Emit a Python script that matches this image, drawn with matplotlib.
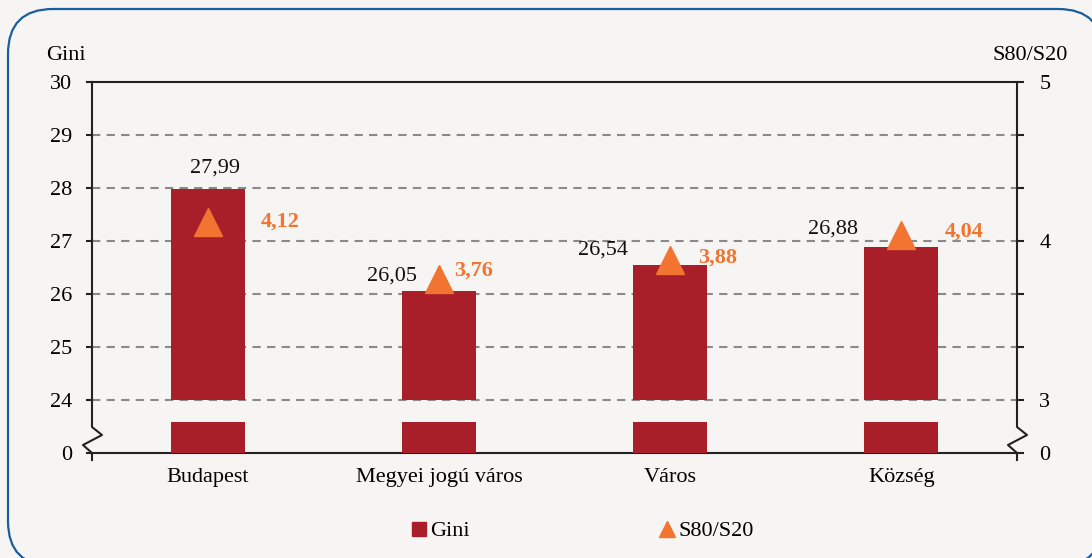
#Gini index and S80/S20 ratio by settlement type, with a broken left axis
import numpy as np
import matplotlib
matplotlib.use("Agg")
import matplotlib.pyplot as plt
from matplotlib.lines import Line2D
from matplotlib.patches import FancyBboxPatch
from matplotlib.ticker import FixedLocator

categories = ['Budapest', 'Megyei jogú város', 'Város', 'Község']
gini = [27.99, 26.05, 26.54, 26.88]
s80_s20 = [4.12, 3.76, 3.88, 4.04]

left_ticks = [23, 24, 25, 26, 27, 28, 29, 30]
left_labels = ['0', '24', '25', '26', '27', '28', '29', '30']
right_ticks = [8/3, 3, 10/3, 11/3, 4, 13/3, 14/3, 5]
right_labels = ['0', '3', '', '', '4', '', '', '5']

BAR = '#a81f2a'
ORANGE = '#f27430'
BG = '#f6f5f3'
FONT = 'Liberation Serif'
FS = 16

plt.rcParams['font.family'] = FONT
plt.rcParams['font.size'] = FS

fig = plt.figure(figsize=(10.92, 5.58), dpi=100)
fig.patch.set_facecolor(BG)

#rounded blue frame round the chart
frame = FancyBboxPatch((0.08, -0.08), 10.95, 5.57, boxstyle='round,pad=0,rounding_size=0.45',
                       transform=fig.dpi_scale_trans, facecolor=BG, edgecolor='#1b5e9e',
                       linewidth=1.6, zorder=-10)
fig.add_artist(frame)

ax = fig.add_axes([92/1092, 1 - 453/558, 925/1092, 371/558])
ax.set_facecolor('none')
x = np.arange(len(categories))
ax.set_xlim(-0.5, len(categories) - 0.5)
ax.set_ylim(23, 30)

#bars: a stub below the break and the real part above 24
ax.bar(x, 0.58, bottom=23, width=0.32, color=BAR, zorder=3)
ax.bar(x, np.array(gini) - 24, bottom=24, width=0.32, color=BAR, zorder=3)

for g in range(24, 30):
    ax.axhline(g, color='#8a8a8a', lw=1.5, linestyle=(0, (4, 3)), zorder=1)

ax.yaxis.set_major_locator(FixedLocator(left_ticks))
ax.set_yticklabels(left_labels)
ax.set_xticks(x)
ax.set_xticklabels(categories)
ax.tick_params(axis='x', length=0, pad=11, labelsize=FS)
ax.tick_params(axis='y', direction='out', length=4, width=1.5, color='#222222', pad=10.5, labelsize=FS)
for s in ['left', 'right']:
    ax.spines[s].set_visible(False)
for s in ['top', 'bottom']:
    ax.spines[s].set_linewidth(1.5)
    ax.spines[s].set_color('#222222')

#axis lines with a zigzag break, in pixel offsets from the axes corners
W, H = 925.0, 371.0
zx = np.array([0, 0, 10, -9, 0, 0])
zy = np.array([H, 26, 18, 8, 0, -7])
ax.plot(zx / W, zy / H, color='#222222', lw=1.5, transform=ax.transAxes, clip_on=False, zorder=5)
ax.plot((zx + W) / W, zy / H, color='#222222', lw=1.5, transform=ax.transAxes, clip_on=False, zorder=5)

ax2 = ax.twinx()
ax2.set_ylim(8/3, 5)
ax2.yaxis.set_major_locator(FixedLocator(right_ticks))
ax2.set_yticklabels(right_labels)
ax2.tick_params(axis='y', direction='out', length=5, width=1.5, color='#222222', pad=11, labelsize=FS)
for s in ax2.spines.values():
    s.set_visible(False)

ax2.plot(x, s80_s20, linestyle='none', marker='^', markersize=20, color=ORANGE, zorder=6)

#label offsets in points (gini labels, then S80/S20 labels)
gini_off = [(5, 15), (-34, 11), (-48, 11), (-49, 13)]
s80_off = [(52, 0), (25, 6), (34, 2), (45, 2)]
for i in range(len(categories)):
    ax.annotate(f'{gini[i]:.2f}'.replace('.', ','), (x[i], gini[i]), xytext=gini_off[i],
                textcoords='offset points', ha='center', va='center', fontsize=FS, color='#111111')
    ax2.annotate(f'{s80_s20[i]:.2f}'.replace('.', ','), (x[i], s80_s20[i]), xytext=s80_off[i],
                 textcoords='offset points', ha='center', va='center', fontsize=FS,
                 color=ORANGE, fontweight='bold', zorder=7)

fig.text(66/1092, 1 - 55/558, 'Gini', ha='center', va='center', fontsize=FS)
fig.text(1030/1092, 1 - 55/558, 'S80/S20', ha='center', va='center', fontsize=FS)

handles = [Line2D([], [], linestyle='none', marker='s', markersize=10, color=BAR),
           Line2D([], [], linestyle='none', marker='^', markersize=11, color=ORANGE)]
fig.legend(handles, ['Gini', 'S80/S20'], loc='center', bbox_to_anchor=(583/1092, 1 - 531/558),
           ncol=2, frameon=False, handlelength=0.6, handletextpad=0.2, columnspacing=8.6, fontsize=FS)

fig.savefig('out.png', dpi=100, facecolor=BG)
